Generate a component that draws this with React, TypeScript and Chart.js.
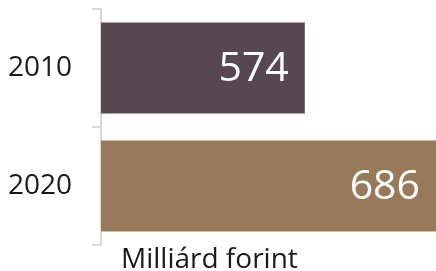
import React, { useEffect, useRef } from "react";
import { Chart, registerables } from "chart.js";

Chart.register(...registerables);

const categories = ["2010", "2020"];
const values = [574, 686];
const barColors = ["#57474E", "#987A5B"];
const axisTitle = "Milliárd forint";
const xMin = 400;
const xMax = 686;

const FONT = "'Open Sans', 'Noto Sans', sans-serif";

const valueLabels = {
  id: "valueLabels",
  afterDatasetsDraw(chart: any) {
    const ctx = chart.ctx;
    const meta = chart.getDatasetMeta(0);
    ctx.save();
    ctx.fillStyle = "#FFFFFF";
    ctx.font = `41px ${FONT}`;
    ctx.textAlign = "right";
    ctx.textBaseline = "middle";
    meta.data.forEach((bar: any, i: number) => {
      ctx.fillText(String(values[i]), bar.x - 16, bar.y + 1);
    });
    ctx.restore();
  },
};

const bottomTitle = {
  id: "bottomTitle",
  afterDraw(chart: any) {
    const ctx = chart.ctx;
    const area = chart.chartArea;
    ctx.save();
    ctx.fillStyle = "#1A1A1A";
    ctx.font = `28px ${FONT}`;
    ctx.textAlign = "left";
    ctx.textBaseline = "alphabetic";
    ctx.fillText(axisTitle, area.left + 20, area.bottom + 23);
    ctx.restore();
  },
};

export default function App() {
  const ref = useRef<HTMLCanvasElement | null>(null);
  useEffect(() => {
    if (!ref.current) return;
    const chart = new Chart(ref.current, {
      type: "bar",
      data: {
        labels: categories,
        datasets: [
          {
            data: values,
            backgroundColor: barColors,
            borderWidth: 0,
            categoryPercentage: 1,
            barPercentage: 0.77,
          },
        ],
      },
      options: {
        indexAxis: "y",
        animation: false,
        responsive: true,
        maintainAspectRatio: false,
        layout: { padding: { top: 9, bottom: 26, left: 8, right: 0 } },
        plugins: {
          legend: { display: false },
          tooltip: { enabled: false },
        },
        scales: {
          x: {
            display: false,
            min: xMin,
            max: xMax,
          },
          y: {
            afterFit(scale: any) {
              scale.width = 93;
              scale.paddingTop = 0;
              scale.paddingBottom = 0;
            },
            grid: {
              offset: true,
              drawOnChartArea: false,
              drawTicks: true,
              tickLength: 9,
              color: "#D9D9D9",
              lineWidth: 2,
            },
            border: { display: true, color: "#D9D9D9", width: 2 },
            ticks: {
              color: "#1A1A1A",
              font: { family: FONT, size: 28 },
              padding: 20,
            },
          },
        },
      },
      plugins: [valueLabels, bottomTitle],
    });
    return () => chart.destroy();
  }, []);
  return (
    <div style={{ position: "absolute", left: 0, top: 0, width: 436, height: 271 }}>
      <canvas ref={ref} />
    </div>
  );
}
